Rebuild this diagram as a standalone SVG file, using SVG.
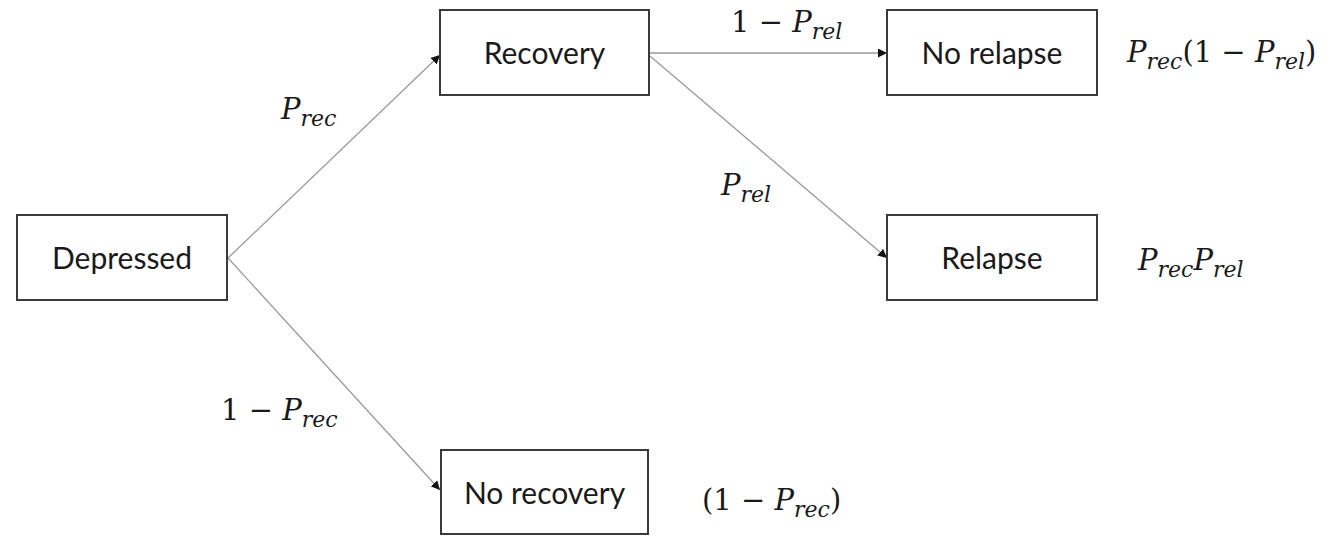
<svg xmlns="http://www.w3.org/2000/svg" width="1327" height="536" viewBox="0 0 1327 536">
<style>
.box{fill:#fff;stroke:#3a3a3a;stroke-width:2}
.lbl{font-family:Lato,"Open Sans",sans-serif;font-size:30px;fill:#1a1a1a;text-anchor:middle}
.m{font-family:"DejaVu Serif","Liberation Serif",serif;font-size:29px;fill:#1a1a1a}
.i{font-style:italic}
.s{font-size:22px;font-style:italic}
.edge{stroke:#9a9a9a;stroke-width:1.3;fill:none;marker-end:url(#ah)}
</style>
<defs>
<marker id="ah" viewBox="0 0 10 10" refX="10" refY="5" markerWidth="9" markerHeight="9" markerUnits="userSpaceOnUse" orient="auto">
<path d="M0,0 L10,5 L0,10 z" fill="#111"/>
</marker>
</defs>
<rect width="1327" height="536" fill="#fff"/>
<g id="connectors">
<line class="edge" x1="228" y1="258" x2="440" y2="55"/>
<line class="edge" x1="228" y1="258" x2="440" y2="490"/>
<line class="edge" x1="650" y1="53" x2="887" y2="53"/>
<line class="edge" x1="650" y1="56" x2="887" y2="258"/>
</g>
<g id="depressed"><rect class="box" x="17" y="215" width="210" height="85"/><text class="lbl" x="122" y="269">Depressed</text></g>
<g id="recovery"><rect class="box" x="440" y="10" width="209" height="85"/><text class="lbl" x="544.5" y="64">Recovery</text></g>
<g id="no-relapse"><rect class="box" x="887" y="10" width="210" height="85"/><text class="lbl" x="992" y="64">No relapse</text></g>
<g id="relapse"><rect class="box" x="887" y="215" width="210" height="85"/><text class="lbl" x="992" y="269">Relapse</text></g>
<g id="no-recovery"><rect class="box" x="441" y="450" width="207" height="84"/><text class="lbl" x="544.5" y="504">No recovery</text></g>
<g id="labels">
<text class="m" x="281" y="119"><tspan class="i">P</tspan><tspan class="s" dy="7">rec</tspan></text>
<text class="m" x="731" y="32">1 − <tspan class="i">P</tspan><tspan class="s" dy="7">rel</tspan></text>
<text class="m" x="721" y="195"><tspan class="i">P</tspan><tspan class="s" dy="7">rel</tspan></text>
<text class="m" x="221" y="420">1 − <tspan class="i">P</tspan><tspan class="s" dy="7">rec</tspan></text>
<text class="m" x="702" y="510">(1 − <tspan class="i">P</tspan><tspan class="s" dy="7">rec</tspan><tspan dy="-7">)</tspan></text>
<text class="m" x="1127" y="62"><tspan class="i">P</tspan><tspan class="s" dy="7">rec</tspan><tspan dy="-7">(1 − </tspan><tspan class="i">P</tspan><tspan class="s" dy="7">rel</tspan><tspan dy="-7">)</tspan></text>
<text class="m" x="1138" y="270"><tspan class="i">P</tspan><tspan class="s" dy="7">rec</tspan><tspan class="i" dy="-7">P</tspan><tspan class="s" dy="7">rel</tspan></text>
</g>
</svg>
